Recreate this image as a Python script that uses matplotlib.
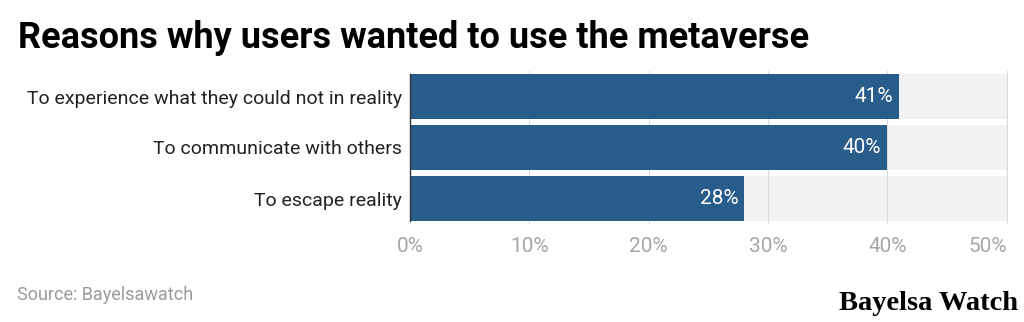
import matplotlib.pyplot as plt
import numpy as np

# data
reasons = ['To experience what they could not in reality',
           'To communicate with others',
           'To escape reality']
shares = [41, 40, 28]
xmax = 50
xticks = [0, 10, 20, 30, 40, 50]

bar_color = '#275c8b'
track_color = '#f2f2f2'

plt.rcParams['font.family'] = ['Roboto', 'DejaVu Sans']

fig = plt.figure(figsize=(10.24, 3.22), dpi=100)
ax = fig.add_axes([410 / 1024, 1 - 224 / 322, 598 / 1024, 153 / 322])

y = np.arange(len(reasons))
h = 0.87

# grey tracks behind each bar
ax.barh(y, [xmax] * len(reasons), height=h, color=track_color, zorder=1)
for t in xticks[1:]:
    ax.axvline(t, color='#dadada', linewidth=0.8, zorder=2)
ax.barh(y, shares, height=h, color=bar_color, zorder=3)

for yi, v in zip(y, shares):
    ax.text(v - 0.5, yi, f'{v}%', color='white', fontsize=15,
            ha='right', va='center', zorder=4)

ax.set_xlim(0, xmax + 0.1)
ax.set_ylim(len(reasons) - 1 + 0.5, -0.5)
ax.set_yticks(y)
ax.set_yticklabels(reasons, fontsize=14, color='#222222')
ax.set_xticks(xticks)
ax.set_xticklabels([f'{t}%' for t in xticks], fontsize=15, color='#a6a6a6')
# last label sits flush with the right edge
ax.get_xticklabels()[-1].set_ha('right')
ax.tick_params(axis='y', length=0, pad=6)
ax.tick_params(axis='x', length=0, pad=9)
for s in ['top', 'right', 'bottom']:
    ax.spines[s].set_visible(False)
ax.spines['left'].set_color('#333333')
ax.spines['left'].set_linewidth(1.0)
ax.spines['left'].set_bounds(-0.435, 2.435)
ax.spines['left'].set_zorder(5)

fig.text(18 / 1024, 1 - 38 / 322, 'Reasons why users wanted to use the metaverse',
         fontsize=26, fontweight='bold', color='black', va='center', ha='left')
fig.text(17 / 1024, 1 - 295 / 322, 'Source: Bayelsawatch',
         fontsize=13, color='#9a9a9a', va='center', ha='left')
fig.text(1018 / 1024, 1 - 304 / 322, 'Bayelsa Watch',
         fontsize=20.5, fontweight='bold', family='Liberation Serif',
         color='black', va='center', ha='right')

fig.savefig('out.png', dpi=100, facecolor='white')
